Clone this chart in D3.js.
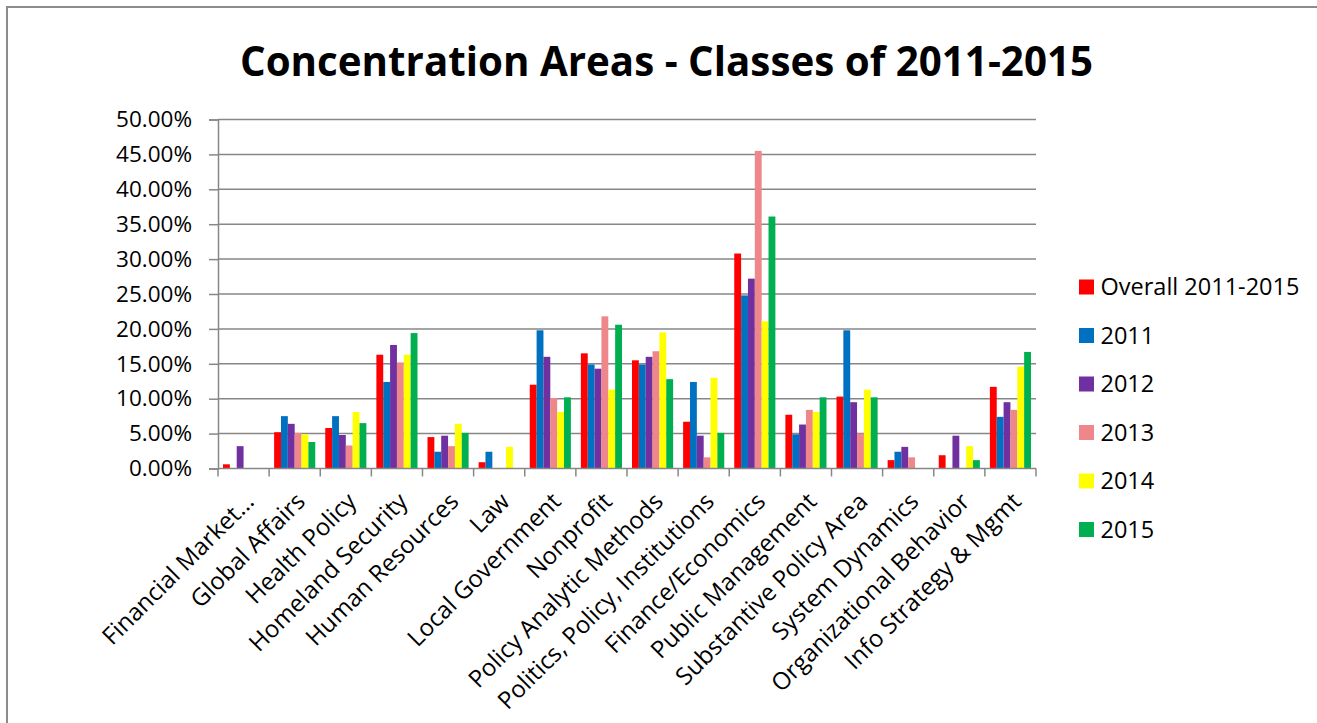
<!DOCTYPE html>
<html>
<head>
<meta charset="utf-8">
<script src="https://cdn.jsdelivr.net/npm/d3@7"></script>
<style>
  body { margin: 0; background: #fff; }
  svg { display: block; font-family: "Open Sans", sans-serif; }
</style>
</head>
<body>
<script>
// categories along the x axis
var categories = ["Financial Market...", "Global Affairs", "Health Policy", "Homeland Security",
  "Human Resources", "Law", "Local Government", "Nonprofit", "Policy Analytic Methods",
  "Politics, Policy, Institutions", "Finance/Economics", "Public Management",
  "Substantive Policy Area", "System Dynamics", "Organizational Behavior", "Info Strategy & Mgmt"];
var seriesNames = ["Overall 2011-2015", "2011", "2012", "2013", "2014", "2015"];
var seriesColors = ["#ff0000", "#0070c0", "#7030a0", "#ee868a", "#ffff00", "#00b050"];
// values in percent
var overall = [0.6, 5.2, 5.8, 16.3, 4.5, 0.9, 12.0, 16.5, 15.5, 6.7, 30.8, 7.7, 10.3, 1.2, 1.9, 11.7];
var y2011 = [0, 7.5, 7.5, 12.4, 2.4, 2.4, 19.8, 14.9, 14.9, 12.4, 24.8, 4.9, 19.8, 2.4, 0, 7.4];
var y2012 = [3.2, 6.4, 4.8, 17.7, 4.7, 0, 16.0, 14.3, 16.0, 4.7, 27.2, 6.3, 9.5, 3.1, 4.7, 9.5];
var y2013 = [0, 5.1, 3.3, 15.2, 3.2, 0, 10.1, 21.8, 16.8, 1.6, 45.5, 8.4, 5.0, 1.6, 0, 8.4];
var y2014 = [0, 4.9, 8.1, 16.3, 6.4, 3.1, 8.1, 11.3, 19.5, 13.0, 21.1, 8.1, 11.3, 0, 3.2, 14.6];
var y2015 = [0, 3.8, 6.5, 19.4, 5.1, 0, 10.2, 20.6, 12.8, 5.1, 36.1, 10.2, 10.2, 0, 1.2, 16.7];
var yTicks = [0, 5, 10, 15, 20, 25, 30, 35, 40, 45, 50];
var title = "Concentration Areas - Classes of 2011-2015";

var allSeries = [overall, y2011, y2012, y2013, y2014, y2015];

var W = 1317, H = 723;
var plot = {left: 218, right: 1036, top: 119.5, bottom: 468.5};
var gridColor = "#878787";

var svg = d3.select("body").append("svg")
    .attr("width", W)
    .attr("height", H);

// outer chart frame (runs past the right and bottom edges)
svg.append("rect")
    .attr("x", 7).attr("y", 7)
    .attr("width", W + 20).attr("height", H + 20)
    .attr("fill", "#fff")
    .attr("stroke", "#8c8c8c")
    .attr("stroke-width", 2);

svg.append("text")
    .attr("x", 666.5).attr("y", 76)
    .attr("text-anchor", "middle")
    .attr("font-size", 42)
    .attr("font-weight", "bold")
    .attr("textLength", 853)
    .attr("lengthAdjust", "spacingAndGlyphs")
    .text(title);

var x = d3.scaleBand().domain(categories).range([plot.left, plot.right]).padding(0);
var xInner = d3.scaleBand().domain(seriesNames)
    .range([5, x.bandwidth() - 5]).padding(0);
var y = d3.scaleLinear().domain([0, 50]).range([plot.bottom, plot.top]);

// horizontal gridlines
svg.append("g").selectAll("line")
    .data(yTicks.filter(function(d){ return d > 0; }))
    .enter().append("line")
      .attr("x1", plot.left).attr("x2", plot.right)
      .attr("y1", function(d){ return y(d); })
      .attr("y2", function(d){ return y(d); })
      .attr("stroke", gridColor)
      .attr("stroke-width", 1.5);

// y axis
var yAxis = svg.append("g")
    .attr("transform", "translate(" + plot.left + ",0)")
    .call(d3.axisLeft(y).tickValues(yTicks).tickSize(9).tickPadding(17)
      .tickFormat(function(d){ return d.toFixed(2) + "%"; }));
yAxis.select(".domain").attr("stroke", gridColor).attr("stroke-width", 1.5);
yAxis.selectAll(".tick line").attr("stroke", gridColor).attr("stroke-width", 1.5);
yAxis.selectAll("text")
    .attr("font-family", "Open Sans")
    .attr("font-size", 22.5)
    .attr("fill", "#000");

// bars
var groups = svg.append("g").selectAll("g")
    .data(allSeries)
    .enter().append("g")
      .attr("fill", function(d, i){ return seriesColors[i]; });
groups.selectAll("rect")
    .data(function(d, i){
      return d.map(function(v, j){ return {cat: categories[j], s: seriesNames[i], v: v}; });
    })
    .enter().append("rect")
      .filter(function(d){ return d.v > 0; })
      .attr("x", function(d){ return x(d.cat) + xInner(d.s); })
      .attr("width", xInner.bandwidth())
      .attr("y", function(d){ return y(d.v); })
      .attr("height", function(d){ return y(0) - y(d.v); });

// x axis with ticks at category boundaries
var bounds = categories.map(function(c){ return x(c); }).concat([plot.right]);
svg.append("line")
    .attr("x1", plot.left).attr("x2", plot.right)
    .attr("y1", plot.bottom).attr("y2", plot.bottom)
    .attr("stroke", gridColor).attr("stroke-width", 1.5);
svg.append("g").selectAll("line")
    .data(bounds)
    .enter().append("line")
      .attr("x1", function(d){ return d; }).attr("x2", function(d){ return d; })
      .attr("y1", plot.bottom).attr("y2", plot.bottom + 8)
      .attr("stroke", gridColor).attr("stroke-width", 1.5);

svg.append("g").selectAll("text")
    .data(categories)
    .enter().append("text")
      .attr("transform", function(d){
        return "translate(" + (x(d) + x.bandwidth() / 2 + 12) + ",503) rotate(-45)";
      })
      .attr("text-anchor", "end")
      .attr("font-size", 24)
      .text(function(d){ return d; });

// legend
var legend = svg.append("g").selectAll("g")
    .data(seriesNames)
    .enter().append("g")
      .attr("transform", function(d, i){ return "translate(1079," + (287 + i * 48.5) + ")"; });
legend.append("rect")
    .attr("x", 0).attr("y", -7.5)
    .attr("width", 15).attr("height", 15)
    .attr("fill", function(d, i){ return seriesColors[i]; });
legend.append("text")
    .attr("x", 21.5).attr("y", 0)
    .attr("dy", "0.36em")
    .attr("font-size", 23.5)
    .text(function(d){ return d; });
</script>
</body>
</html>
